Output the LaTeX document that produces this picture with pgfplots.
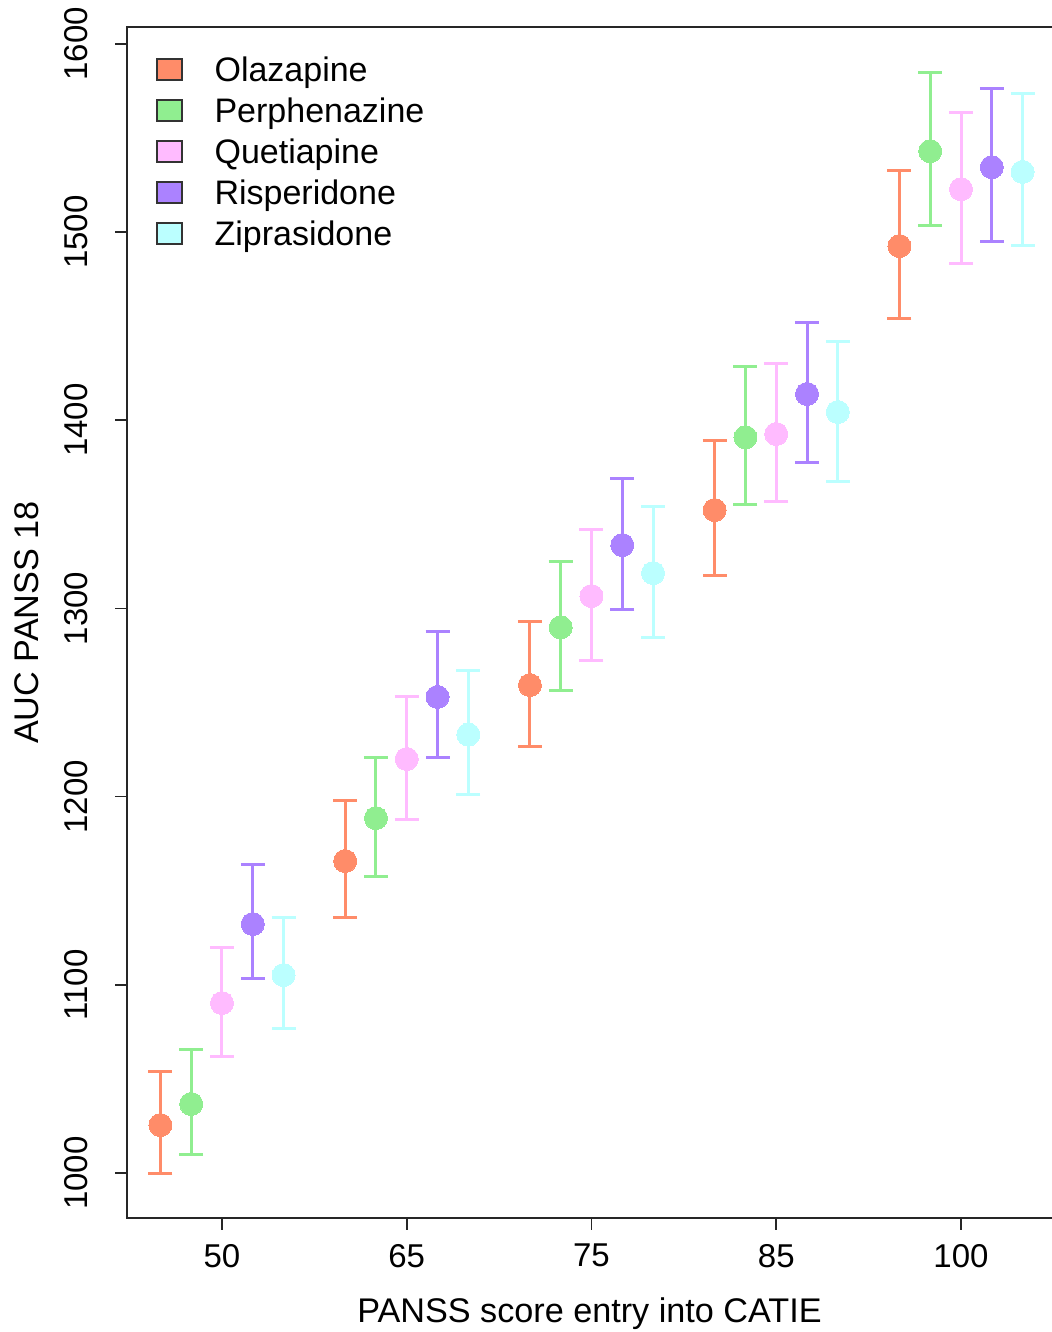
\documentclass[border=0pt]{standalone}
\usepackage{fontspec}
\setmainfont{Liberation Sans}
\usepackage{pgfplots}
\usepackage{pgfplotstable}
\pgfplotsset{compat=1.18}
\definecolor{olaz}{HTML}{FF8C69}
\definecolor{perph}{HTML}{90EE90}
\definecolor{quet}{HTML}{FFBBFF}
\definecolor{risp}{HTML}{AB82FF}
\definecolor{zip}{HTML}{BBFFFF}

\pgfplotstableread{
x y hi lo
0.6667 1025.5 1053.7 999.5
1.6667 1165.8 1197.7 1136.0
2.6667 1259.3 1293.3 1226.9
3.6667 1352.3 1389.5 1317.7
4.6667 1492.6 1533.0 1454.3
}\olaz
\pgfplotstableread{
x y hi lo
0.8333 1036.7 1065.4 1010.0
1.8333 1188.6 1221.0 1157.8
2.8333 1290.0 1324.7 1256.6
3.8333 1391.0 1428.8 1355.5
4.8333 1543.0 1585.0 1503.7
}\perph
\pgfplotstableread{
x y hi lo
1 1090.3 1120.0 1062.0
2 1220.0 1253.0 1188.0
3 1306.6 1341.7 1272.6
4 1392.7 1430.4 1357.0
5 1522.8 1563.7 1483.5
}\quet
\pgfplotstableread{
x y hi lo
1.1667 1132.3 1163.7 1103.6
2.1667 1253.0 1287.5 1221.0
3.1667 1333.7 1369.3 1299.2
4.1667 1414.0 1452.2 1377.8
5.1667 1534.5 1576.5 1495.2
}\risp
\pgfplotstableread{
x y hi lo
1.3333 1105.2 1136.0 1077.0
2.3333 1233.0 1267.0 1201.0
3.3333 1318.8 1354.4 1284.8
4.3333 1404.4 1442.0 1367.7
5.3333 1532.0 1573.8 1493.0
}\zip

\pgfplotsset{
  ser/.style={only marks, mark=*, color=#1, mark size=5.75pt,
    mark options={draw=#1, fill=#1, line width=0pt},
    error bars/y dir=both, error bars/y explicit,
    error bars/error bar style={line width=1.5pt, color=#1},
    error bars/error mark options={line width=1.5pt, mark size=6pt, color=#1, rotate=90}},
  legbox/.style={legend image code/.code={\draw[fill=#1, draw=black!80, line width=0.6pt] (0pt,-1.75pt) rectangle (12.5pt,8.75pt);}}
}

\begin{document}
\begin{tikzpicture}
\useasboundingbox (0,0) rectangle (526pt,666pt);
\begin{axis}[
  at={(63.5pt,57pt)}, anchor=south west,
  scale only axis, width=462.5pt, height=595.5pt,
  xmin=0.486, xmax=5.4925, ymin=976.1, ymax=1609,
  xtick={1,2,3,4,5}, xticklabels={50,65,75,85,100},
  ytick={1000,1100,1200,1300,1400,1500,1600},
  tick align=outside, xtick pos=bottom, ytick pos=left,
  major tick length=6pt,
  tick style={black!85, line width=0.8pt},
  axis line style={draw=none},
  /pgf/number format/assume math mode=true,
  /pgf/number format/1000 sep={},
  ticklabel style={font=\fontsize{16.5}{19}\selectfont},
  yticklabel style={rotate=90, anchor=south},
  yticklabel shift=10pt,
  xticklabel shift=3.5pt,
  xlabel={PANSS score entry into CATIE},
  ylabel={AUC PANSS 18},
  label style={font=\fontsize{17.1}{20}\selectfont},
  xlabel style={at={(axis description cs:0.5,-0.0806)}, anchor=center},
  ylabel style={at={(axis description cs:-0.1081,0.5)}, anchor=center},
  clip=false,
  legend style={draw=none, fill=none, inner sep=0pt, at={(axis description cs:0.0313,0.976)}, anchor=north west,
    font=\fontsize{17}{20}\selectfont, column sep=16pt,
    nodes={inner sep=0pt, text height=13pt, text depth=7.5pt}},
  legend cell align=left,
]
\addlegendimage{legbox=olaz}\addlegendentry{Olazapine}
\addlegendimage{legbox=perph}\addlegendentry{Perphenazine}
\addlegendimage{legbox=quet}\addlegendentry{Quetiapine}
\addlegendimage{legbox=risp}\addlegendentry{Risperidone}
\addlegendimage{legbox=zip}\addlegendentry{Ziprasidone}

\addplot+[forget plot, ser=olaz] table[x=x, y=y, y error plus expr=\thisrow{hi}-\thisrow{y}, y error minus expr=\thisrow{y}-\thisrow{lo}] {\olaz};
\addplot+[forget plot, ser=perph] table[x=x, y=y, y error plus expr=\thisrow{hi}-\thisrow{y}, y error minus expr=\thisrow{y}-\thisrow{lo}] {\perph};
\addplot+[forget plot, ser=quet] table[x=x, y=y, y error plus expr=\thisrow{hi}-\thisrow{y}, y error minus expr=\thisrow{y}-\thisrow{lo}] {\quet};
\addplot+[forget plot, ser=risp] table[x=x, y=y, y error plus expr=\thisrow{hi}-\thisrow{y}, y error minus expr=\thisrow{y}-\thisrow{lo}] {\risp};
\addplot+[forget plot, ser=zip] table[x=x, y=y, y error plus expr=\thisrow{hi}-\thisrow{y}, y error minus expr=\thisrow{y}-\thisrow{lo}] {\zip};

\draw[black!85, line width=0.8pt] (rel axis cs:1,1) -- (rel axis cs:0,1) -- (rel axis cs:0,0) -- (rel axis cs:1,0);
\end{axis}
\end{tikzpicture}
\end{document}
